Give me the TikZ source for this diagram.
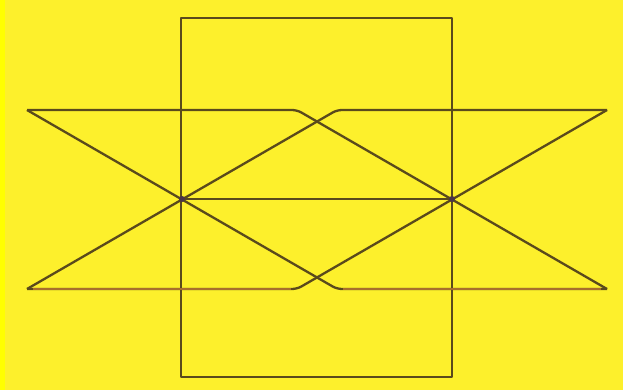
\documentclass[tikz,border=0pt]{standalone}
\usetikzlibrary{calc}
\definecolor{bg}{HTML}{FDF02C}
\definecolor{strip}{HTML}{FFFF00}
\definecolor{ink}{HTML}{5A4A1C}
\definecolor{inkb}{HTML}{A86E2C}
\definecolor{dotc}{HTML}{4A3448}
\tikzset{
  edge/.style={draw=ink, line width=2.3pt, line join=round},
  lowedge/.style={draw=inkb, line width=2.3pt},
  junction/.style={circle, fill=dotc, inner sep=0pt, minimum size=6pt},
}
\begin{document}
\begin{tikzpicture}[x=1pt,y=-1pt]
  \fill[bg] (0,0) rectangle (623,390);
  \fill[strip] (0,0) rectangle (5,390);
  \useasboundingbox (0,0) rectangle (623,390);
  % key points
  \coordinate (TL) at (27,110);
  \coordinate (TR) at (607,110);
  \coordinate (BL) at (27,289);
  \coordinate (BR) at (607,289);
  \coordinate (TM1) at (297,110);
  \coordinate (TM2) at (337,110);
  \coordinate (BM1) at (297,289);
  \coordinate (BM2) at (337,289);
  \coordinate (P) at (182,199);
  \coordinate (Q) at (452,199);
  % rectangle
  \draw[edge] (181,18) rectangle (452,377);
  % first parallelogram
  \draw[edge, rounded corners=5pt] (TL) -- (TM1) -- (BR);
  \draw[edge, rounded corners=5pt] (BR) -- (BM2) -- (TL);
  % second parallelogram
  \draw[edge, rounded corners=5pt] (BL) -- (BM1) -- (TR);
  \draw[edge, rounded corners=5pt] (TR) -- (TM2) -- (BL);
  % bottom line tint
  \draw[lowedge] ($(BL)+(6,0)$) -- ($(BM1)+(-6,0)$);
  \draw[lowedge] ($(BM2)+(6,0)$) -- ($(BR)+(-6,0)$);
  % middle line
  \draw[edge] (P) -- (Q);
  \node[junction] (p) at (P) {};
  \node[junction] (q) at (Q) {};
\end{tikzpicture}
\end{document}
